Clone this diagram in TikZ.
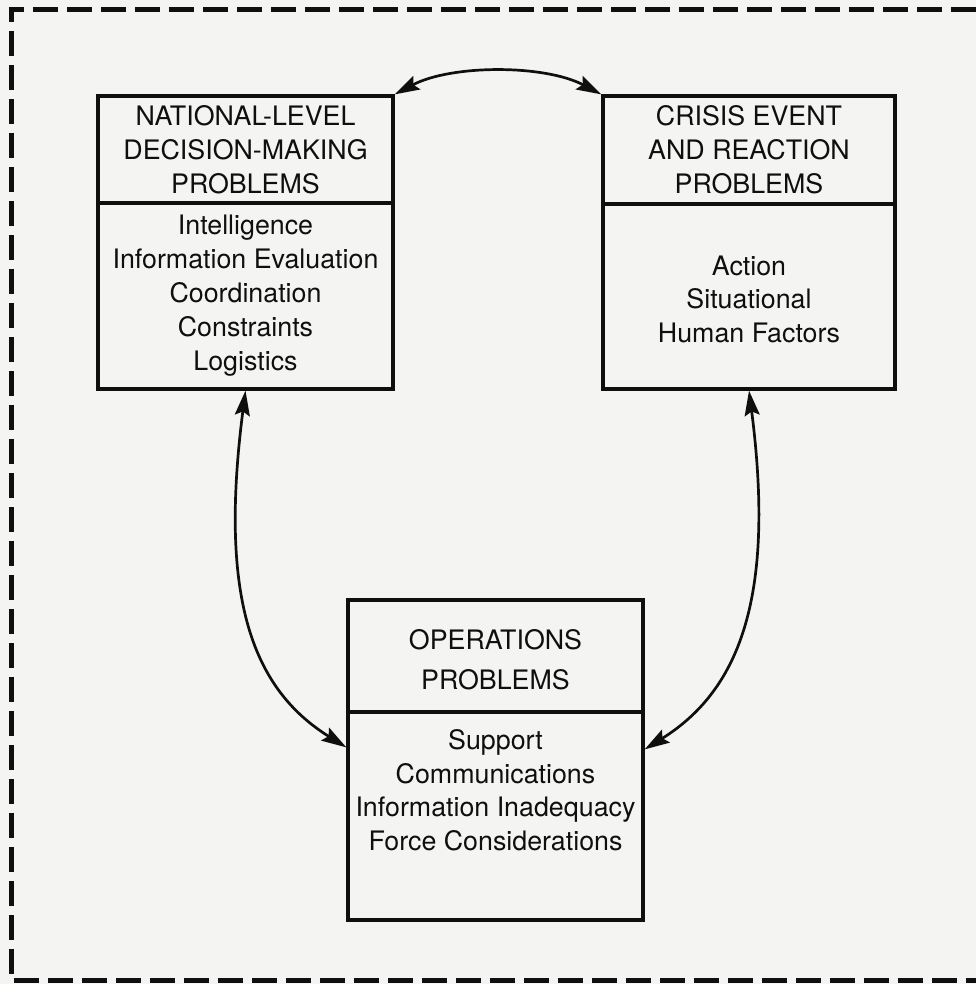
\documentclass[tikz,border=0pt]{standalone}
\usepackage{fontspec}
\setmainfont{TeX Gyre Heros}
\usetikzlibrary{arrows.meta}
\definecolor{paper}{RGB}{244,244,242}
\definecolor{ink}{RGB}{15,15,15}
\tikzset{
  box/.style={draw=ink, line width=3.2pt, inner sep=0pt, minimum width=295pt, align=center,
              text=ink, font=\fontsize{26.8}{34}\selectfont},
  txt/.style={inner sep=0pt, align=center, text=ink, font=\fontsize{26.8}{33.5}\selectfont},
  conn/.style={draw=ink, line width=2.7pt, {Stealth[length=25pt,width=15pt,inset=4pt]}-{Stealth[length=25pt,width=15pt,inset=4pt]}},
  frame/.style={draw=ink, line width=5pt, dash pattern=on 25pt off 9pt}
}
\begin{document}
\begin{tikzpicture}[x=1pt,y=-1pt]
\useasboundingbox (0,0) rectangle (976,984);
\fill[paper] (0,0) rectangle (976,984);
\draw[frame] (976,10) -- (11,10) -- (11,980) -- (976,980);

% left box
\node[box, minimum height=107pt] (nlh) at (245.5,149.5) {NATIONAL-LEVEL\\DECISION-MAKING\\PROBLEMS};
\node[box, minimum height=186pt] (nlb) at (245.5,296) {Intelligence\\Information Evaluation\\Coordination\\Constraints\\Logistics};

% right box
\node[box, minimum width=292pt, minimum height=108pt] (ceh) at (749,150) {CRISIS EVENT\\AND REACTION\\PROBLEMS};
\node[box, minimum width=292pt, minimum height=185pt] (ceb) at (749,296.5) {};
\node[txt] (cebt) at (749,299) {Action\\Situational\\Human Factors};

% bottom box
\node[box, minimum height=112pt] (oph) at (495.5,656) {};
\node[txt, font=\fontsize{26.8}{40}\selectfont] (opht) at (495.5,660) {OPERATIONS\\PROBLEMS};
\node[box, minimum height=208pt] (opb) at (495.5,816) {};
\node[txt] (opbt) at (495.5,790) {Support\\Communications\\Information Inadequacy\\Force Considerations};

% connectors
\draw[conn] (nlh.north east) .. controls +(57,-30) and +(-57,-30) .. (ceh.north west);
\draw[conn] (nlb.south) .. controls +(-27,210) and +(-93,-58) .. ([yshift=-37pt]opb.north west);
\draw[conn] (ceb.south) .. controls +(27,210) and +(93,-58) .. ([yshift=-39pt]opb.north east);
\end{tikzpicture}
\end{document}
